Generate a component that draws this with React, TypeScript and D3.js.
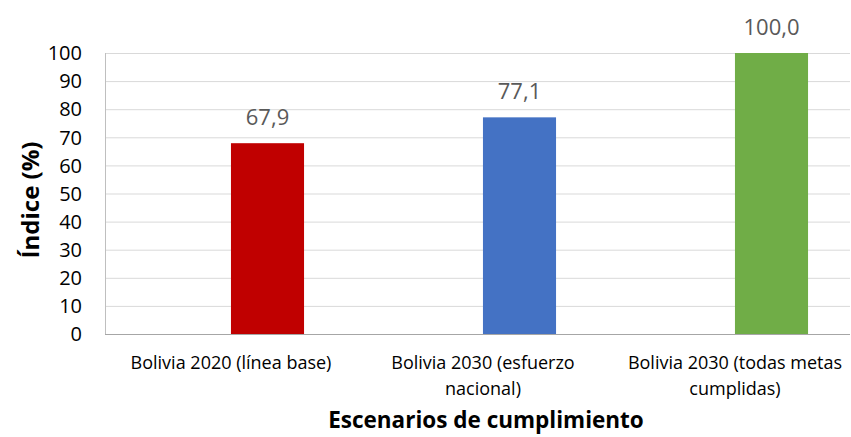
import React, { useEffect, useRef } from "react";
import * as d3 from "d3";

const categories = [
  "Bolivia 2020 (línea base)",
  "Bolivia 2030 (esfuerzo nacional)",
  "Bolivia 2030 (todas metas cumplidas)",
];
const categoryLines = [
  ["Bolivia 2020 (línea base)"],
  ["Bolivia 2030 (esfuerzo", "nacional)"],
  ["Bolivia 2030 (todas metas", "cumplidas)"],
];
const values = [67.9, 77.1, 100.0];
const barColors = ["#C00000", "#4472C4", "#70AD47"];
const yTicks = [0, 10, 20, 30, 40, 50, 60, 70, 80, 90, 100];

const FONT = "'Open Sans', 'Liberation Sans', Arial, sans-serif";

const App: React.FC = () => {
  const svgRef = useRef<SVGSVGElement | null>(null);

  useEffect(() => {
    if (!svgRef.current) return;
    const svg = d3.select(svgRef.current);
    svg.selectAll("*").remove();

    const plotLeft = 105;
    const plotRight = 850;
    const plotTop = 53;
    const plotBottom = 334;

    const y = d3.scaleLinear().domain([0, 100]).range([plotBottom, plotTop]);
    // bars sit a bit to the right of the label slots
    const x = d3
      .scaleBand<string>()
      .domain(categories)
      .range([141.5, 897.5])
      .paddingInner(0.71)
      .paddingOuter(0.355);
    const xLabel = d3.scaleBand<string>().domain(categories).range([105, 861]);

    // gridlines
    svg
      .append("g")
      .selectAll("line")
      .data(yTicks.filter((d) => d > 0))
      .enter()
      .append("line")
      .attr("x1", plotLeft)
      .attr("x2", plotRight)
      .attr("y1", (d) => y(d) + 0.5)
      .attr("y2", (d) => y(d) + 0.5)
      .attr("stroke", "#D9D9D9")
      .attr("stroke-width", 1);

    // bars
    svg
      .append("g")
      .selectAll("rect")
      .data(values)
      .enter()
      .append("rect")
      .attr("x", (d, i) => x(categories[i])!)
      .attr("width", x.bandwidth())
      .attr("y", (d) => y(d))
      .attr("height", (d) => y(0) - y(d))
      .attr("fill", (d, i) => barColors[i]);

    // axis lines
    svg
      .append("line")
      .attr("x1", plotLeft + 0.5)
      .attr("x2", plotLeft + 0.5)
      .attr("y1", plotTop)
      .attr("y2", plotBottom)
      .attr("stroke", "#BFBFBF");
    svg
      .append("line")
      .attr("x1", plotLeft)
      .attr("x2", plotRight)
      .attr("y1", plotBottom + 0.5)
      .attr("y2", plotBottom + 0.5)
      .attr("stroke", "#A6A6A6");

    // y tick labels
    svg
      .append("g")
      .selectAll("text")
      .data(yTicks)
      .enter()
      .append("text")
      .attr("x", 82)
      .attr("y", (d) => y(d))
      .attr("dy", "0.36em")
      .attr("text-anchor", "end")
      .attr("font-family", FONT)
      .attr("font-size", 20)
      .attr("fill", "#000")
      .text((d) => d);

    // data labels
    const fmt = d3.format(".1f");
    svg
      .append("g")
      .selectAll("text")
      .data(values)
      .enter()
      .append("text")
      .attr("x", (d, i) => x(categories[i])! + x.bandwidth() / 2)
      .attr("y", (d) => y(d) - 18)
      .attr("text-anchor", "middle")
      .attr("font-family", FONT)
      .attr("font-size", 22)
      .attr("fill", "#595959")
      .text((d) => fmt(d).replace(".", ","));

    // category labels
    const catG = svg
      .append("g")
      .selectAll("text")
      .data(categoryLines)
      .enter()
      .append("text")
      .attr("x", (d, i) => xLabel(categories[i])! + xLabel.bandwidth() / 2)
      .attr("y", 369)
      .attr("text-anchor", "middle")
      .attr("font-family", FONT)
      .attr("font-size", 18)
      .attr("fill", "#000");
    catG
      .selectAll("tspan")
      .data((d) => d)
      .enter()
      .append("tspan")
      .attr("x", function () {
        return (this.parentNode as SVGTextElement).getAttribute("x");
      })
      .attr("dy", (d, i) => (i === 0 ? 0 : 26))
      .text((d) => d);

    // axis titles
    svg
      .append("text")
      .attr("x", 486)
      .attr("y", 428)
      .attr("text-anchor", "middle")
      .attr("font-family", FONT)
      .attr("font-size", 22.5)
      .attr("font-weight", "bold")
      .attr("fill", "#000")
      .text("Escenarios de cumplimiento");

    svg
      .append("text")
      .attr("transform", `translate(39,200) rotate(-90)`)
      .attr("text-anchor", "middle")
      .attr("font-family", FONT)
      .attr("font-size", 24)
      .attr("font-weight", "bold")
      .attr("fill", "#000")
      .text("Índice (%)");
  }, []);

  return (
    <svg
      ref={svgRef}
      width={851}
      height={437}
      style={{ position: "absolute", left: 0, top: 0, background: "#fff" }}
    />
  );
};

export default App;
